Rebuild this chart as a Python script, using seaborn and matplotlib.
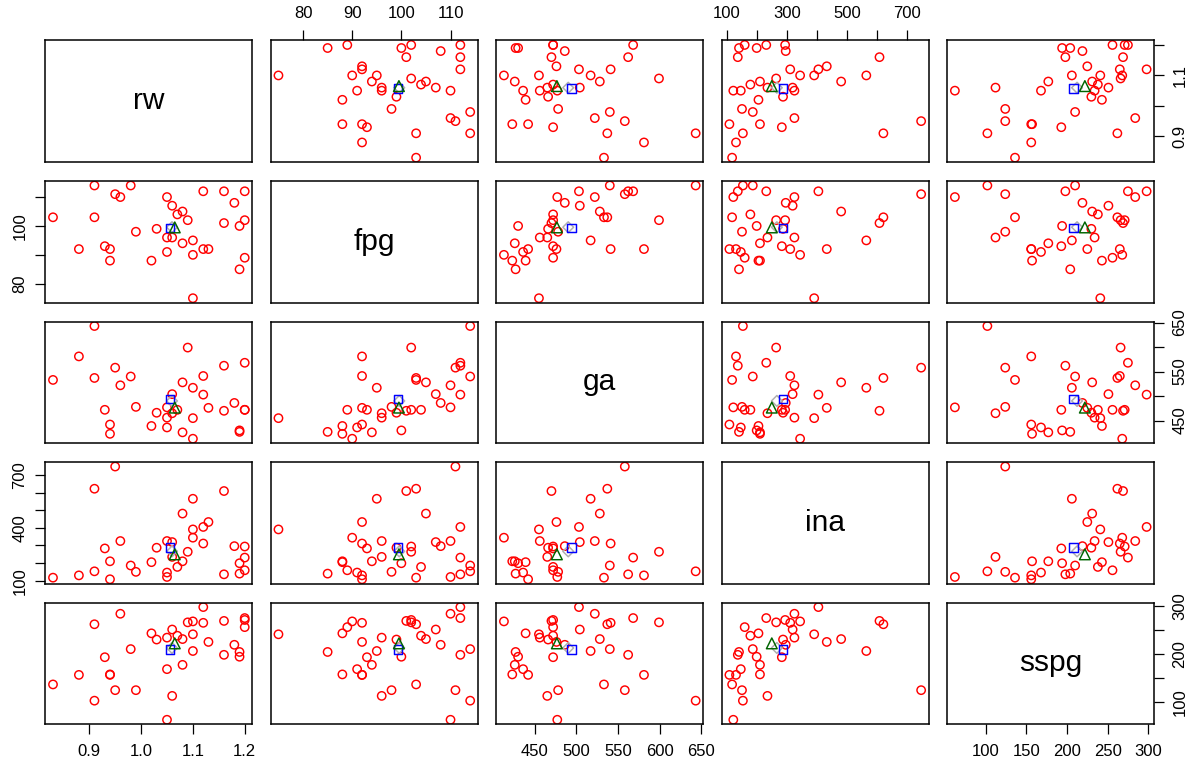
import numpy as np
import pandas as pd
import matplotlib
matplotlib.use("Agg")
import matplotlib.pyplot as plt
import seaborn as sns

# ---- data ----
rw = [0.83, 0.88, 0.91, 0.91, 0.93, 0.94, 0.94, 0.95, 0.96, 0.98, 0.99, 1.02,
      1.03, 1.05, 1.05, 1.05, 1.06, 1.06, 1.07, 1.08, 1.08, 1.09, 1.10, 1.10,
      1.10, 1.12, 1.12, 1.13, 1.16, 1.16, 1.18, 1.19, 1.19, 1.20, 1.20, 1.20]
fpg = [103, 92, 114, 103, 93, 92, 88, 111, 110, 114, 98, 88, 99, 110, 96, 91,
       107, 96, 104, 105, 94, 102, 95, 90, 75, 112, 92, 92, 112, 101, 108, 100,
       85, 112, 102, 89]
ga = [533, 581, 643, 537, 472, 442, 423, 558, 522, 540, 478, 439, 466, 477,
      456, 436, 504, 465, 472, 528, 426, 599, 517, 413, 455, 503, 541, 476,
      562, 470, 486, 430, 427, 568, 472, 472]
ina = [117, 130, 153, 622, 283, 108, 210, 748, 325, 186, 150, 205, 287, 121,
       325, 146, 319, 235, 178, 481, 210, 264, 565, 344, 391, 405, 311, 433,
       136, 609, 296, 199, 140, 231, 294, 159]
sspg = [136, 156, 102, 262, 193, 156, 157, 124, 284, 210, 124, 243, 230, 62,
        234, 168, 251, 112, 238, 231, 177, 266, 206, 268, 241, 298, 265, 225,
        198, 269, 219, 194, 204, 275, 271, 256]

var_names = ["rw", "fpg", "ga", "ina", "sspg"]

tick_pos = {
    "rw": [0.9, 1.0, 1.1, 1.2],
    "fpg": [80, 90, 100, 110],
    "ga": [450, 500, 550, 600, 650],
    "ina": [100, 200, 300, 400, 500, 600, 700],
    "sspg": [100, 150, 200, 250, 300],
}
xtick_labels = {
    "rw": ["0.9", "1.0", "1.1", "1.2"],
    "fpg": ["80", "90", "100", "110"],
    "ga": ["450", "500", "550", "600", "650"],
    "ina": ["100", "", "300", "", "500", "", "700"],
    "sspg": ["100", "150", "200", "250", "300"],
}
ytick_labels = {
    "rw": ["0.9", "", "1.1", ""],
    "fpg": ["80", "", "100", ""],
    "ga": ["450", "", "550", "", "650"],
    "ina": ["100", "", "", "400", "", "", "700"],
    "sspg": ["100", "", "200", "", "300"],
}

df = pd.DataFrame({"rw": rw, "fpg": fpg, "ga": ga, "ina": ina, "sspg": sspg})

sns.set_style("white")
plt.rcParams["font.family"] = ["Liberation Sans", "DejaVu Sans"]
plt.rcParams["axes.edgecolor"] = "black"
plt.rcParams["axes.linewidth"] = 1.0


def trimmed_mean(v, frac=0.1):
    v = np.sort(np.asarray(v, dtype=float))
    k = int(frac * len(v))
    return v[k:len(v) - k].mean()


def draw_pair(x, y, **kws):
    ax = plt.gca()
    sns.scatterplot(x=x, y=y, ax=ax, marker="o", s=36, facecolors="none",
                    edgecolor="#FF0000", linewidth=1.05, legend=False)
    # centre estimates
    sns.scatterplot(x=[trimmed_mean(x)], y=[trimmed_mean(y)], ax=ax, marker="D",
                    s=30, facecolors="none", edgecolor="#B0B0B0", linewidth=1.1,
                    legend=False, zorder=3)
    sns.scatterplot(x=[np.mean(x)], y=[np.mean(y)], ax=ax, marker="s", s=40,
                    facecolors="none", edgecolor="#0000FF", linewidth=1.05,
                    legend=False, zorder=4)
    sns.scatterplot(x=[np.median(x)], y=[np.median(y)], ax=ax, marker="^", s=60,
                    facecolors="none", edgecolor="#006400", linewidth=1.05,
                    legend=False, zorder=5)


g = sns.PairGrid(df, vars=var_names, despine=False, height=1.5, aspect=1.7)
g.map_offdiag(draw_pair)

fig = g.figure
fig.set_size_inches(11.99, 7.62)
fig.set_dpi(100)
fig.subplots_adjust(left=0.0378, right=0.9627, top=0.9469, bottom=0.0495,
                    wspace=0.0889, hspace=0.1545)

lims = {}
for v in var_names:
    arr = np.asarray(df[v], dtype=float)
    r = arr.max() - arr.min()
    lims[v] = (arr.min() - 0.04 * r, arr.max() + 0.04 * r)

n = len(var_names)
for i in range(n):
    for j in range(n):
        ax = g.axes[i, j]
        vx, vy = var_names[j], var_names[i]
        ax.set_xlim(lims[vx])
        ax.set_ylim(lims[vy])
        ax.set_xlabel("")
        ax.set_ylabel("")
        ax.grid(False)
        for s in ax.spines.values():
            s.set_visible(True)
            s.set_color("black")
            s.set_linewidth(1.1)
        ax.set_xticks(tick_pos[vx])
        ax.set_xticklabels(xtick_labels[vx])
        ax.set_yticks(tick_pos[vy])
        ax.set_yticklabels(ytick_labels[vy])
        show_top = (i == 0 and j % 2 == 1)
        show_bottom = (i == n - 1 and j % 2 == 0)
        show_left = (j == 0 and i % 2 == 1)
        show_right = (j == n - 1 and i % 2 == 0)
        ax.tick_params(axis="x", which="both", top=show_top, bottom=show_bottom,
                       labeltop=show_top, labelbottom=show_bottom,
                       direction="out", length=7, width=0.9, pad=7,
                       labelsize=12, colors="black")
        ax.tick_params(axis="y", which="both", left=show_left, right=show_right,
                       labelleft=show_left, labelright=show_right,
                       direction="out", length=7, width=0.9, pad=6,
                       labelsize=12, colors="black")
        if i == j:
            ax.text(0.5, 0.5, vx, transform=ax.transAxes, ha="center",
                    va="center", fontsize=21.5, color="black")

for i in range(n):
    for j in range(n):
        ax = g.axes[i, j]
        if j == 0 and i % 2 == 1:
            for t in ax.yaxis.get_major_ticks():
                t.label1.set_rotation(90)
                t.label1.set_va("center")
                t.label1.set_ha("right")
        if j == n - 1 and i % 2 == 0:
            for t in ax.yaxis.get_major_ticks():
                t.label2.set_rotation(90)
                t.label2.set_va("center")
                t.label2.set_ha("left")

fig.savefig("out.png", dpi=100, facecolor="white")
